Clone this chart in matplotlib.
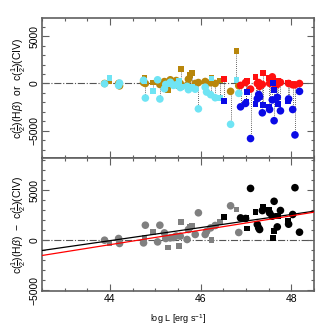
import numpy as np
import matplotlib
matplotlib.use("Agg")
import matplotlib.pyplot as plt
from matplotlib.ticker import MultipleLocator

plt.rcParams['font.family'] = ['Liberation Sans', 'DejaVu Sans']
plt.rcParams['mathtext.fontset'] = 'custom'
plt.rcParams['mathtext.rm'] = 'Liberation Sans'
plt.rcParams['mathtext.it'] = 'Liberation Sans:italic'
plt.rcParams['mathtext.bf'] = 'Liberation Sans:bold'

# ---- low-luminosity sample (gold = Hbeta, cyan = CIV, gray = difference)
L_lo = [43.88, 43.99, 44.19, 44.21, 44.74, 44.76, 44.78, 44.94, 45.05, 45.10,
        45.20, 45.23, 45.28, 45.33, 45.40, 45.46, 45.53, 45.55, 45.56, 45.70,
        45.73, 45.76, 45.80, 45.88, 45.95, 46.10, 46.13, 46.22, 46.24, 46.32,
        46.43, 46.66, 46.79, 46.84]
hb_lo = [0, 280, 0, -250, 100, 560, 0, 100, 250, -100,
         200, 100, -730, 390, 100, 310, -300, 0, 1500, -200,
         450, 900, 1150, 0, 100, 210, 0, 80, 560, 0,
         310, -830, 3440, -240]
civ_lo = [-30, 580, -200, 50, 340, 300, -1530, -760, 390, -1630,
          -560, -100, -30, 130, -200, -140, 270, -430, -360, -300,
          -650, -460, -350, -600, -2670, -390, -900, -1180, 530, -1500,
          -1520, -4300, 340, -1040]
mk_lo = ['o', 's', 'o', 'o', 'o', 's', 'o', 's', 'o', 'o',
         'o', 'o', 's', 'o', 'o', 'o', 's', 'o', 's', 'o',
         'o', 's', 's', 'o', 'o', 'o', 'o', 'o', 's', 'o',
         's', 'o', 's', 'o']

# ---- high-luminosity sample (red = Hbeta, blue = CIV, black = difference)
L_hi = [46.52, 46.88, 46.99, 47.01, 47.02, 47.10, 47.21, 47.25, 47.28, 47.30,
        47.36, 47.37, 47.50, 47.52, 47.58, 47.60, 47.61, 47.62, 47.69, 47.70,
        47.76, 47.94, 47.93, 48.03, 48.08, 48.18]
hb_hi = [460, -200, 100, 280, 270, -590, 670, 0, 100, -300,
         -100, 1080, 600, 20, 700, 300, 270, 0, -100, 280,
         120, 0, 100, -140, -140, 0]
civ_hi = [-1870, -2460, -2100, -1980, -930, -5800, -2190, -1600, -1160, -1400,
          -3090, -2280, -2500, -2740, -1730, 40, -660, -3920, -1460, -2150,
          -2880, -1630, -1830, -2740, -5420, -830]
mk_hi = ['s', 'o', 'o', 's', 's', 'o', 's', 'o', 'o', 'o',
         'o', 's', 's', 'o', 'o', 's', 's', 'o', 'o', 's',
         'o', 'o', 's', 'o', 'o', 'o']

# regression lines: (slope per dex, value at log L = 44)
fit_black = (655.0, -17.5)
fit_red = (722.0, -417.0)

C_GOLD = '#b8860b'
C_CYAN = '#6fe4f4'
C_RED = '#ff1010'
C_BLUE = '#0a0ae6'
C_GRAY = '#808080'
SPINE = '#606060'

fig = plt.figure(figsize=(3.32, 3.32), dpi=100)
ax1 = fig.add_axes([0.1265, 0.5241, 0.8193, 0.4217])
ax2 = fig.add_axes([0.1265, 0.1235, 0.8193, 0.4006], sharex=ax1)

ms_c, ms_s = 30, 18

def scat(ax, x, y, m, color, z):
    x = np.asarray(x); y = np.asarray(y); m = np.asarray(m)
    for mk, s in (('o', ms_c), ('s', ms_s)):
        sel = m == mk
        ax.scatter(x[sel], y[sel], marker=mk, s=s, c=color, edgecolors='none', zorder=z)

for ax in (ax1, ax2):
    ax.axhline(0, color='#555555', lw=0.8, ls='-.', zorder=1)

# top panel
ax1.vlines(L_lo, hb_lo, civ_lo, colors='#333333', linestyles=(0, (1, 1.5)), lw=0.6, zorder=2)
ax1.vlines(L_hi, hb_hi, civ_hi, colors='#333333', linestyles=(0, (1, 1.5)), lw=0.6, zorder=2)
scat(ax1, L_lo, hb_lo, mk_lo, C_GOLD, 3)
scat(ax1, L_lo, civ_lo, mk_lo, C_CYAN, 4)
scat(ax1, L_hi, hb_hi, mk_hi, C_RED, 5)
scat(ax1, L_hi, civ_hi, mk_hi, C_BLUE, 6)

# bottom panel
d_lo = np.array(hb_lo) - np.array(civ_lo)
d_hi = np.array(hb_hi) - np.array(civ_hi)
scat(ax2, L_lo, d_lo, mk_lo, C_GRAY, 3)
scat(ax2, L_hi, d_hi, mk_hi, 'black', 4)
xx = np.array([42.5, 48.5])
ax2.plot(xx, fit_black[0] * (xx - 44) + fit_black[1], color='black', lw=0.9, zorder=5)
ax2.plot(xx, fit_red[0] * (xx - 44) + fit_red[1], color='red', lw=0.9, zorder=5)

ax1.set_xlim(42.5, 48.5)
ax1.set_ylim(-7850, 6900)
ax2.set_ylim(-5050, 8250)

for ax in (ax1, ax2):
    ax.xaxis.set_major_locator(MultipleLocator(2))
    ax.xaxis.set_minor_locator(MultipleLocator(0.5))
    ax.yaxis.set_major_locator(MultipleLocator(5000))
    ax.yaxis.set_minor_locator(MultipleLocator(1000))
    ax.tick_params(which='both', direction='in', top=True, right=True,
                   color=SPINE, labelsize=7.5, width=0.8, pad=2)
    ax.tick_params(which='major', length=5)
    ax.tick_params(which='minor', length=2.5)
    for sp in ax.spines.values():
        sp.set_color(SPINE)
        sp.set_linewidth(1.2)
    for lab in ax.get_yticklabels():
        lab.set_rotation(90)
        lab.set_va('center')

ax1.tick_params(labelbottom=False)
ax1.set_ylabel(r'c($\frac{1}{2}$)(H$\beta$)  or  c($\frac{1}{2}$)(CIV)', fontsize=7.5, labelpad=1)
ax2.set_ylabel(r'c($\frac{1}{2}$)(H$\beta$)  $-$  c($\frac{1}{2}$)(CIV)', fontsize=7.5, labelpad=1)
ax2.set_xlabel(r'log L [erg s$^{-1}$]', fontsize=6.5, labelpad=6)

fig.savefig('out.png', dpi=100)
